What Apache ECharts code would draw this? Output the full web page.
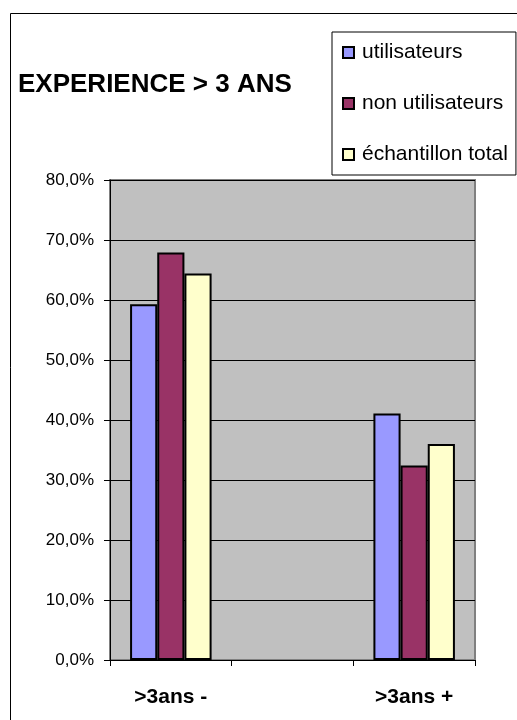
<!DOCTYPE html>
<html><head><meta charset="utf-8">
<script src="https://cdn.jsdelivr.net/npm/echarts@6/dist/echarts.min.js"></script>
<style>html,body{margin:0;padding:0;background:#fff}#c{width:517px;height:720px}</style>
</head><body><div id="c"></div>
<script>
const categories = ['>3ans -', '', '>3ans +'];
const seriesNames = ['utilisateurs', 'non utilisateurs', 'échantillon total'];
const utilisateurs = [59.3, null, 41.1];
const nonUtilisateurs = [67.9, null, 32.4];
const echantillonTotal = [64.4, null, 36.0];
const yTicks = [0, 10, 20, 30, 40, 50, 60, 70, 80];
const colors = ['#9999FF', '#993366', '#FFFFCC'];

const chart = echarts.init(document.getElementById('c'), null, {renderer: 'canvas'});
const font = 'Liberation Sans, Arial, sans-serif';
const dataSets = [utilisateurs, nonUtilisateurs, echantillonTotal];
chart.setOption({
  animation: false,
  backgroundColor: '#fff',
  graphic: [{
    type: 'rect', shape: {x: 10.5, y: 13.5, width: 520, height: 720},
    style: {fill: 'none', stroke: '#000', lineWidth: 1}, z: 100
  }],
  title: {
    text: 'EXPERIENCE > 3 ANS', left: 13, top: 67,
    textStyle: {fontFamily: font, fontSize: 26, fontWeight: 'bold', color: '#000'}
  },
  legend: {
    orient: 'vertical', left: 332, top: 32,
    padding: [10, 8, 10, 10], itemGap: 30,
    backgroundColor: '#fff', borderColor: '#000', borderWidth: 1,
    icon: 'rect', itemWidth: 11, itemHeight: 11,
    textStyle: {fontFamily: font, fontSize: 21, color: '#000', padding: [0, 0, 0, 3]},
    itemStyle: {borderColor: '#000', borderWidth: 2},
    data: seriesNames
  },
  grid: {
    left: 110, right: 42, top: 180, bottom: 60, containLabel: false,
    show: true, backgroundColor: '#C0C0C0', borderColor: '#808080', borderWidth: 2
  },
  xAxis: {
    type: 'category', data: categories, boundaryGap: true,
    axisLine: {show: true, lineStyle: {color: '#000', width: 1}},
    axisTick: {show: true, length: 6, lineStyle: {color: '#000'}},
    axisLabel: {fontFamily: font, fontSize: 21, fontWeight: 'bold', color: '#000', margin: 27}
  },
  yAxis: {
    type: 'value', min: yTicks[0], max: yTicks[yTicks.length - 1], interval: 10,
    axisLine: {show: true, lineStyle: {color: '#000', width: 1}},
    axisTick: {show: true, length: 6, lineStyle: {color: '#000'}},
    axisLabel: {
      fontFamily: font, fontSize: 17, color: '#000', margin: 16,
      formatter: v => v.toFixed(1).replace('.', ',') + '%'
    },
    splitLine: {show: true, lineStyle: {color: '#000', width: 1}}
  },
  series: seriesNames.map((name, i) => ({
    name, type: 'bar', data: dataSets[i],
    barGap: '0%', barCategoryGap: '33%',
    itemStyle: {color: colors[i], borderColor: '#000', borderWidth: 2}
  }))
});
</script></body></html>
